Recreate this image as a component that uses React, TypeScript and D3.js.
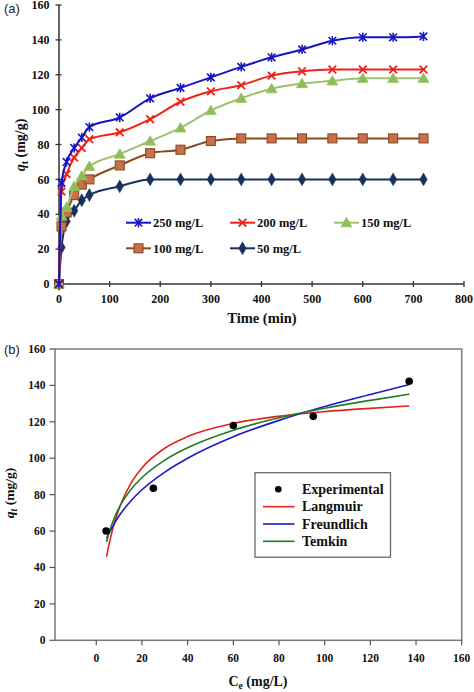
import React from "react";
import * as d3 from "d3";

// ---------- Panel (a): kinetics ----------
const times = [0, 5, 15, 30, 45, 60, 120, 180, 240, 300, 360, 420, 480, 540, 600, 660, 720];
const q250 = [0, 58, 70, 78, 84, 90, 95.5, 106.5, 112.5, 118.5, 124.5, 130, 134.5, 139.5, 141.5, 141.5, 142];
const q200 = [0, 53, 63, 72.5, 78, 83, 87, 94.5, 104.5, 110.5, 114, 119.5, 122, 123, 123, 123, 123];
const q150 = [0, 39, 44, 56, 62, 67.5, 74.5, 82, 89.5, 99.5, 106.5, 112, 115, 116.5, 118, 118, 118];
const q100 = [0, 33, 41, 51, 57, 60, 68, 75, 77, 82, 83.5, 83.5, 83.5, 83.5, 83.5, 83.5, 83.5];
const q50 = [0, 21, 36, 42, 48, 51, 56, 60, 60, 60, 60, 60, 60, 60, 60, 60, 60];
const kineticLabels = ["250 mg/L", "200 mg/L", "150 mg/L", "100 mg/L", "50 mg/L"];
const xTicksA = [0, 100, 200, 300, 400, 500, 600, 700, 800];
const yTicksA = [0, 20, 40, 60, 80, 100, 120, 140, 160];

// ---------- Panel (b): isotherms ----------
const expC = [4.3, 25, 60, 95, 137];
const expQ = [60, 83.5, 118, 123, 142.3];
const fitC = [4.5, 6, 8, 10, 15, 20, 30, 40, 60, 80, 100, 120, 137];
const langmuirQ = [46, 55, 64.8, 72.4, 85.9, 94.7, 105.5, 111.9, 119.1, 123.1, 125.6, 127.4, 128.7];
const freundlichQ = [56, 59.8, 64.4, 68.4, 76.4, 82.7, 92.4, 100, 111.8, 120.8, 128.4, 135, 140.5];
const temkinQ = [54, 60.8, 67.6, 72.9, 82.5, 89.4, 99, 105.8, 115.4, 122.2, 127.5, 131.8, 135.2];
const isoLabels = ["Experimental", "Langmuir", "Freundlich", "Temkin"];
const xTicksB = [0, 20, 40, 60, 80, 100, 120, 140, 160];
const yTicksB = [0, 20, 40, 60, 80, 100, 120, 140, 160];

const SERIF = "'Liberation Serif', 'Times New Roman', serif";
const SANS = "'Liberation Sans', Arial, sans-serif";

type Marker = "asterisk" | "x" | "triangle" | "square" | "diamond";

function MarkerShape({ kind, x, y, color, fill }: { kind: Marker; x: number; y: number; color: string; fill?: string }) {
  const r = 3.8;
  if (kind === "asterisk") {
    return (
      <g stroke={color} strokeWidth={1.6}>
        <line x1={x - r} y1={y - r} x2={x + r} y2={y + r} />
        <line x1={x - r} y1={y + r} x2={x + r} y2={y - r} />
        <line x1={x} y1={y - r - 0.8} x2={x} y2={y + r + 0.8} />
      </g>
    );
  }
  if (kind === "x") {
    return (
      <g stroke={color} strokeWidth={1.8}>
        <line x1={x - r} y1={y - r} x2={x + r} y2={y + r} />
        <line x1={x - r} y1={y + r} x2={x + r} y2={y - r} />
      </g>
    );
  }
  if (kind === "triangle") {
    const p = d3.symbol(d3.symbolTriangle, 52)();
    return <path d={p || ""} transform={`translate(${x},${y + 1})`} fill={fill || color} stroke={color} strokeWidth={0.8} />;
  }
  if (kind === "square") {
    const s = 9;
    return <rect x={x - s / 2} y={y - s / 2} width={s} height={s} fill={fill || color} stroke={color} strokeWidth={1.1} />;
  }
  const p = d3.symbol(d3.symbolDiamond, 48)();
  return <path d={p || ""} transform={`translate(${x},${y})`} fill={fill || color} stroke={color} strokeWidth={0.5} />;
}

export default function App() {
  const W = 474, H = 692;

  // Panel (a) scales
  const xA = d3.scaleLinear().domain([0, 800]).range([59, 464]);
  const yA = d3.scaleLinear().domain([0, 160]).range([284, 5]);

  const seriesA = [
    { label: kineticLabels[0], values: q250, color: "#1414C4", marker: "asterisk" as Marker, fill: "#1414C4" },
    { label: kineticLabels[1], values: q200, color: "#F0201A", marker: "x" as Marker, fill: "#F0201A" },
    { label: kineticLabels[2], values: q150, color: "#9CC26A", marker: "triangle" as Marker, fill: "#8DBE5A" },
    { label: kineticLabels[3], values: q100, color: "#8B4A1E", marker: "square" as Marker, fill: "#C8704C" },
    { label: kineticLabels[4], values: q50, color: "#17305E", marker: "diamond" as Marker, fill: "#17305E" },
  ];

  const lineA = d3
    .line<[number, number]>()
    .x((d) => xA(d[0]))
    .y((d) => yA(d[1]))
    .curve(d3.curveMonotoneX);

  // draw order: bottom series last? draw 50 first so upper series on top
  const drawOrder = [4, 3, 2, 1, 0];

  const legendA = [
    { idx: 0, x: 126, y: 222.7 },
    { idx: 1, x: 230, y: 222.7 },
    { idx: 2, x: 334, y: 222.7 },
    { idx: 3, x: 126, y: 248.3 },
    { idx: 4, x: 230, y: 248.3 },
  ];

  // Panel (b) scales
  const xB = d3.scaleLinear().domain([0, 160]).range([96.3, 461.7]);
  const yB = d3.scaleLinear().domain([0, 160]).range([640.3, 349]);
  const boxL = 55, boxR = 461.7, boxT = 349, boxB = 640.3;

  const lineB = d3
    .line<[number, number]>()
    .x((d) => xB(d[0]))
    .y((d) => yB(d[1]))
    .curve(d3.curveMonotoneX);

  const fits = [
    { label: isoLabels[1], values: langmuirQ, color: "#E3231F" },
    { label: isoLabels[2], values: freundlichQ, color: "#1A1ACC" },
    { label: isoLabels[3], values: temkinQ, color: "#1E7E22" },
  ];

  const axisColor = "#333";

  return (
    <svg
      width={W}
      height={H}
      viewBox={`0 0 ${W} ${H}`}
      style={{ position: "absolute", left: 0, top: 0, background: "#fff" }}
    >
      <rect x={0} y={0} width={W} height={H} fill="#fff" />

      {/* ===== Panel (a) ===== */}
      <text x={4} y={13} fontFamily={SANS} fontSize={13} fill="#222">(a)</text>

      {/* axes */}
      <line x1={xA(0)} y1={yA(0)} x2={xA(800)} y2={yA(0)} stroke={axisColor} strokeWidth={1.5} />
      <line x1={xA(0)} y1={yA(0)} x2={xA(0)} y2={yA(160)} stroke={axisColor} strokeWidth={1.5} />
      {xTicksA.map((t) => (
        <g key={`xa${t}`}>
          <line x1={xA(t)} x2={xA(t)} y1={yA(0) - 3} y2={yA(0) + 3} stroke={axisColor} strokeWidth={1.3} />
          <text x={xA(t)} y={302.5} textAnchor="middle" fontFamily={SERIF} fontWeight="bold" fontSize={12} fill="#111">{t}</text>
        </g>
      ))}
      {yTicksA.map((t) => (
        <g key={`ya${t}`}>
          <line x1={xA(0) - 3.5} x2={xA(0) + 2.5} y1={yA(t)} y2={yA(t)} stroke={axisColor} strokeWidth={1.3} />
          <text x={49.5} y={yA(t) + 4.2} textAnchor="end" fontFamily={SERIF} fontWeight="bold" fontSize={12} fill="#111">{t}</text>
        </g>
      ))}
      <text x={262} y={323} textAnchor="middle" fontFamily={SERIF} fontWeight="bold" fontSize={14.5} fill="#111">Time (min)</text>
      <text transform={`translate(25,145) rotate(-90)`} textAnchor="middle" fontFamily={SERIF} fontWeight="bold" fontSize={14} fill="#111">
        <tspan fontStyle="italic">q</tspan>
        <tspan fontSize={10} dy={3}>t</tspan>
        <tspan dy={-3}> (mg/g)</tspan>
      </text>

      {/* series */}
      {drawOrder.map((i) => {
        const s = seriesA[i];
        const pts = times.map((t, k) => [t, s.values[k]] as [number, number]);
        return (
          <g key={`sa${i}`}>
            <path d={lineA(pts) || ""} fill="none" stroke={s.color} strokeWidth={2} />
            {pts.map((p, k) => (
              <MarkerShape key={k} kind={s.marker} x={xA(p[0])} y={yA(p[1])} color={s.color} fill={s.fill} />
            ))}
          </g>
        );
      })}

      {/* legend (a) */}
      {legendA.map((l) => {
        const s = seriesA[l.idx];
        return (
          <g key={`la${l.idx}`}>
            <line x1={l.x} x2={l.x + 25} y1={l.y} y2={l.y} stroke={s.color} strokeWidth={2} />
            <MarkerShape kind={s.marker} x={l.x + 12.5} y={l.y} color={s.color} fill={s.fill} />
            <text x={l.x + 27} y={l.y + 4.3} fontFamily={SERIF} fontWeight="bold" fontSize={12.5} fill="#111">{s.label}</text>
          </g>
        );
      })}

      {/* ===== Panel (b) ===== */}
      <text x={4} y={354} fontFamily={SANS} fontSize={13} fill="#222">(b)</text>

      <rect x={boxL} y={boxT} width={boxR - boxL} height={boxB - boxT} fill="none" stroke="#7a7a7a" strokeWidth={1.5} />
      {xTicksB.map((t) => (
        <g key={`xb${t}`}>
          <line x1={xB(t)} x2={xB(t)} y1={boxB} y2={boxB + 5} stroke="#555" strokeWidth={1.2} />
          <text x={xB(t)} y={661.5} textAnchor="middle" fontFamily={SERIF} fontWeight="bold" fontSize={11.5} fill="#111">{t}</text>
        </g>
      ))}
      {yTicksB.map((t) => (
        <g key={`yb${t}`}>
          <line x1={boxL - 5.5} x2={boxL} y1={yB(t)} y2={yB(t)} stroke="#555" strokeWidth={1.2} />
          <text x={45.5} y={yB(t) + 4} textAnchor="end" fontFamily={SERIF} fontWeight="bold" fontSize={11.5} fill="#111">{t}</text>
        </g>
      ))}
      <text x={258} y={686} textAnchor="middle" fontFamily={SERIF} fontWeight="bold" fontSize={14} fill="#111">
        <tspan>C</tspan>
        <tspan fontSize={9.5} dy={3}>e</tspan>
        <tspan dy={-3}> (mg/L)</tspan>
      </text>
      <text transform={`translate(14,493) rotate(-90)`} textAnchor="middle" fontFamily={SERIF} fontWeight="bold" fontSize={13.5} fill="#111">
        <tspan fontStyle="italic">q</tspan>
        <tspan fontSize={9.5} dy={3} fontStyle="italic">t</tspan>
        <tspan dy={-3}> (mg/g)</tspan>
      </text>

      {fits.map((f) => (
        <path
          key={f.label}
          d={lineB(fitC.map((c, k) => [c, f.values[k]] as [number, number])) || ""}
          fill="none"
          stroke={f.color}
          strokeWidth={1.6}
        />
      ))}
      {expC.map((c, k) => (
        <circle key={`e${k}`} cx={xB(c)} cy={yB(expQ[k])} r={3.8} fill="#000" />
      ))}

      {/* legend (b) */}
      <rect x={255} y={472.7} width={135.5} height={84.5} fill="#fff" stroke="#6a6a6a" strokeWidth={1.3} />
      <circle cx={278.3} cy={489.3} r={3.3} fill="#000" />
      <text x={302} y={494} fontFamily={SERIF} fontWeight="bold" fontSize={14} fill="#111">{isoLabels[0]}</text>
      {fits.map((f, i) => {
        const y = 506.7 + i * 17.3;
        return (
          <g key={`lb${i}`}>
            <line x1={263} x2={294.5} y1={y} y2={y} stroke={f.color} strokeWidth={1.6} />
            <text x={302} y={y + 4.7} fontFamily={SERIF} fontWeight="bold" fontSize={14} fill="#111">{f.label}</text>
          </g>
        );
      })}
    </svg>
  );
}
